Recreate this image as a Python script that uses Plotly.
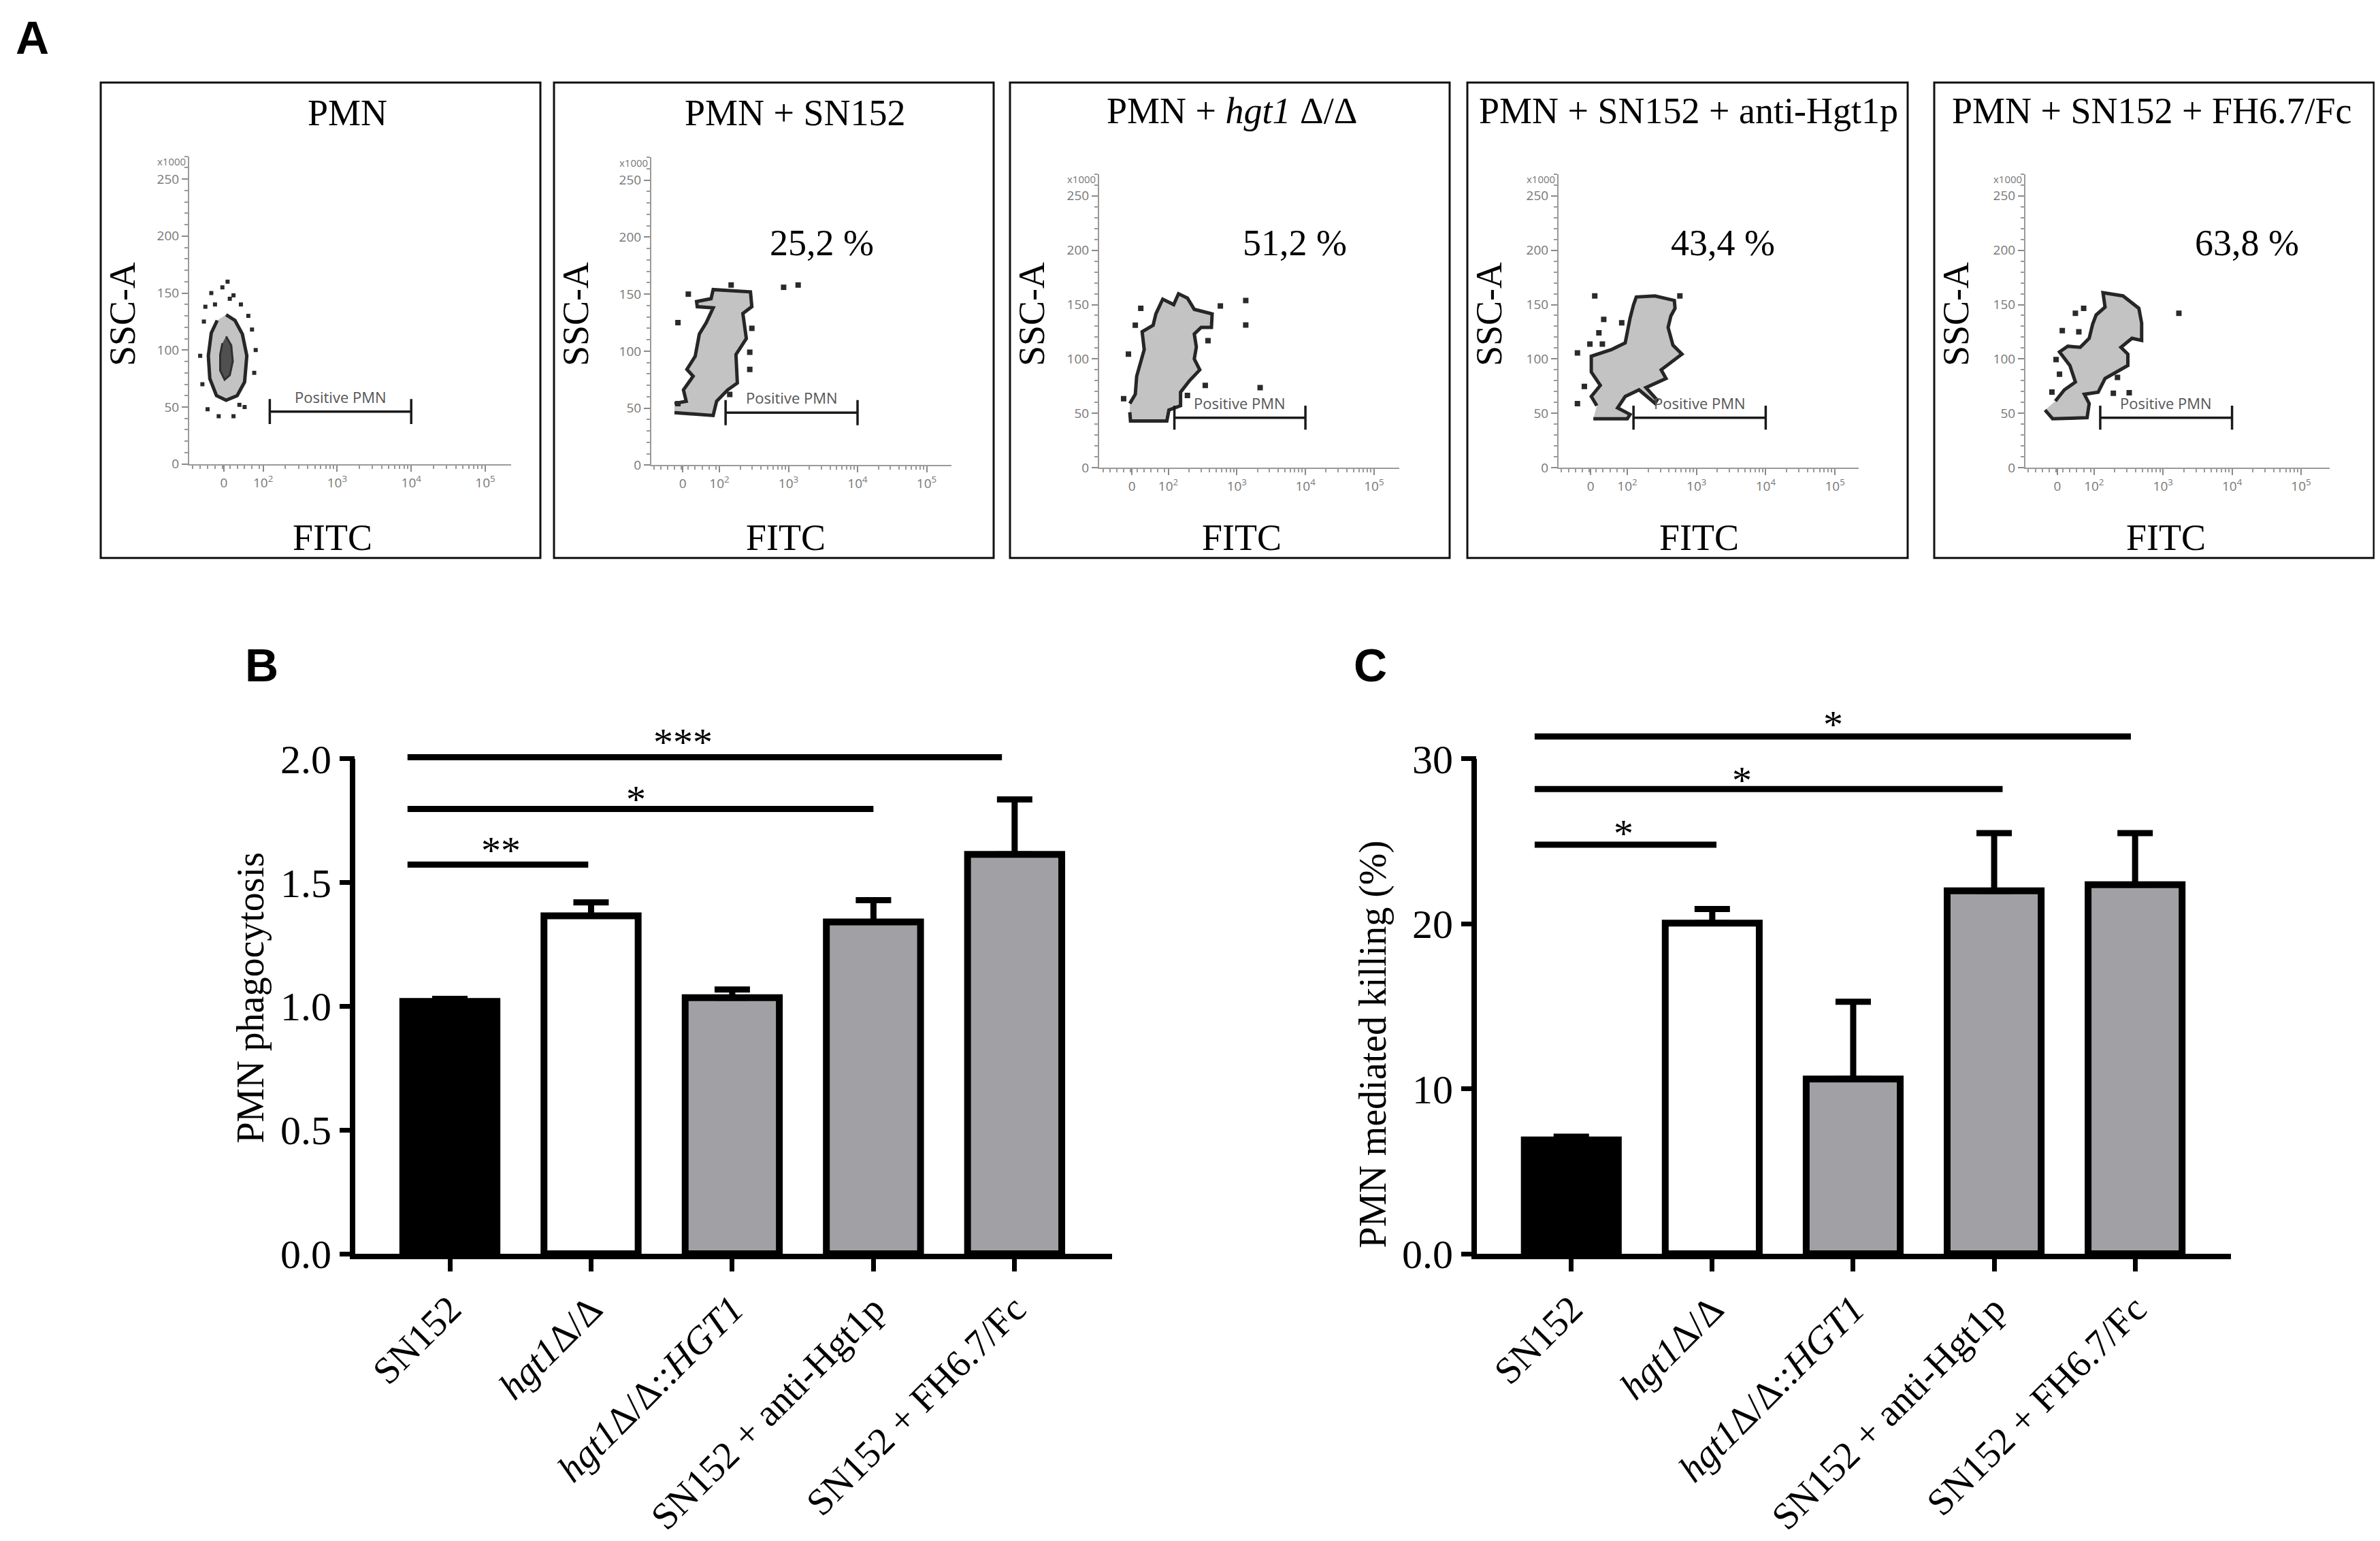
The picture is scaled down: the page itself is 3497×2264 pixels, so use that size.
import math

import plotly.graph_objects as go

W, H = 3497, 2264
SERIF = "Liberation Serif, Times New Roman, serif"
SANS = "Liberation Sans, Arial, sans-serif"


def px(x):
    return x / W


def py(y):
    return 1 - y / H


# ---------------- Panel A data (FITC position, SSC-A x1000) ----------------
facs_titles = ["PMN", "PMN + SN152", "PMN + <i>hgt1</i> Δ/Δ",
               "PMN + SN152 + anti-Hgt1p", "PMN + SN152 + FH6.7/Fc"]
facs_percent = ["", "25,2 %", "51,2 %", "43,4 %", "63,8 %"]

pmn_u = [1.50, 1.62, 1.72, 1.78, 1.75, 1.65, 1.50, 1.37, 1.28, 1.26, 1.30, 1.38]
pmn_ssc = [131, 126, 114, 95, 72, 60, 56, 60, 75, 95, 115, 126]
pmn_core_u = [1.50, 1.57, 1.59, 1.55, 1.48, 1.42, 1.42, 1.45]
pmn_core_ssc = [112, 104, 90, 78, 74, 82, 96, 106]
pmn_dots_u = [1.30, 1.45, 1.60, 1.70, 1.85, 1.90, 1.88, 1.75, 1.60, 1.40,
              1.25, 1.18, 1.15, 1.20, 1.35, 1.55, 1.80, 1.52, 1.68, 1.22]
pmn_dots_ssc = [150, 155, 148, 140, 118, 100, 80, 50, 42, 42,
                48, 70, 95, 125, 140, 145, 130, 160, 52, 138]

sn152_u = [1.35, 1.91, 1.96, 2.12, 2.26, 2.24, 2.39, 2.34, 2.47, 2.45, 1.91, 1.88,
           1.67, 1.68, 1.91, 1.81, 1.71, 1.65, 1.53, 1.62, 1.48, 1.52, 1.35]
sn152_ssc = [46, 43.5, 56, 66, 72, 97, 111, 133, 139, 152, 154, 146,
             143.5, 139, 138, 125, 115, 95.5, 84, 78, 66, 56, 54]
sn152_dots_u = [1.55, 2.17, 2.93, 3.14, 1.40, 2.44, 2.44, 2.47, 1.40, 2.15]
sn152_dots_ssc = [150, 158, 156, 158, 125, 99, 84, 120, 54, 62]

hgt1_u = [1.44, 1.45, 1.98, 2.01, 2.18, 2.18, 2.31, 2.46, 2.38, 2.41, 2.38, 2.48, 2.63,
          2.64, 2.38, 2.28, 2.15, 2.08, 1.92, 1.82, 1.78, 1.62, 1.65, 1.59, 1.54, 1.52, 1.44]
hgt1_ssc = [51, 43, 43, 53, 57, 69.5, 80, 90, 100, 111, 123, 129, 129,
            141.5, 145.6, 156, 160, 150, 155, 141.5, 131, 125, 108.6, 94, 84, 67.5, 59]
hgt1_dots_u = [1.60, 1.52, 1.42, 1.35, 2.76, 3.13, 3.13, 3.34, 2.54, 2.58, 2.28]
hgt1_dots_ssc = [146.6, 131, 104.5, 63.4, 148.7, 153.8, 131.2, 73.7, 75.7, 116.8, 66.5]

anti_u = [1.51, 2.00, 2.04, 1.86, 1.97, 2.17, 2.40, 2.43, 2.27, 2.56, 2.49, 2.79, 2.66, 2.59,
          2.63, 2.69, 2.68, 2.40, 2.13, 2.09, 2.04, 1.97, 1.77, 1.48, 1.48, 1.61, 1.48, 1.56]
anti_ssc = [45, 45, 49, 55, 65.5, 71.6, 59.3, 62.4, 73.7, 82, 90, 104.5, 112.7, 129,
            139.5, 146.6, 153.8, 158, 157, 149.7, 137.4, 114.8, 108.6, 102.5, 88, 75.7, 65.5, 57]
anti_dots_u = [1.59, 1.46, 1.92, 1.64, 1.28, 1.38, 1.28, 1.53, 2.76, 1.66]
anti_dots_ssc = [124, 113.7, 133.3, 113.7, 105.5, 74.7, 59, 158, 158, 136.4]

fh_u = [1.29, 1.40, 1.90, 1.93, 1.86, 2.06, 2.16, 2.49, 2.49, 2.39, 2.55, 2.69, 2.69, 2.65,
        2.42, 2.13, 2.16, 2.03, 1.98, 1.93, 1.80, 1.62, 1.50, 1.65, 1.73, 1.57, 1.44]
fh_ssc = [53, 45, 46, 59, 67.5, 69.5, 82, 94, 104.5, 110.7, 119, 117, 133, 146.6,
          158, 161, 147.7, 140.4, 132, 119, 110.7, 111.7, 106.5, 94, 78.8, 71.6, 61.3]
fh_dots_u = [1.85, 1.73, 1.54, 1.78, 1.45, 1.50, 1.39, 2.28, 2.34, 2.51, 3.23]
fh_dots_ssc = [146.6, 142, 126, 125, 99.4, 86, 69.5, 68.5, 83, 69, 142]

clouds = [(pmn_u, pmn_ssc, pmn_dots_u, pmn_dots_ssc),
          (sn152_u, sn152_ssc, sn152_dots_u, sn152_dots_ssc),
          (hgt1_u, hgt1_ssc, hgt1_dots_u, hgt1_dots_ssc),
          (anti_u, anti_ssc, anti_dots_u, anti_dots_ssc),
          (fh_u, fh_ssc, fh_dots_u, fh_dots_ssc)]

gate_lo, gate_hi, gate_ssc = 2.09, 4.0, 46

# ---------------- Panels B and C data ----------------
categories = ["SN152", "<i>hgt1</i>Δ/Δ", "<i>hgt1</i>Δ/Δ::<i>HGT1</i>",
              "SN152 + anti-Hgt1p", "SN152 + FH6.7/Fc"]
bar_colors = ["#000000", "#ffffff", "#a1a1a5", "#a1a1a5", "#a1a1a5"]

phago_mean = [1.02, 1.366, 1.035, 1.341, 1.614]
phago_sem = [0.01, 0.054, 0.033, 0.088, 0.222]
kill_mean = [6.9, 20.04, 10.6, 22.0, 22.37]
kill_sem = [0.2, 0.86, 4.68, 3.5, 3.13]

# significance bars: start, end, height ; star label, x, y
phago_sig_x0 = [-0.30, -0.30, -0.30]
phago_sig_x1 = [0.98, 3.0, 3.91]
phago_sig_y = [1.573, 1.798, 2.007]
phago_star_text = ["**", "*", "***"]
phago_star_x = [0.36, 1.32, 1.65]
phago_star_y = [1.664, 1.87, 2.10]

kill_sig_x0 = [-0.26, -0.26, -0.26]
kill_sig_x1 = [1.03, 3.06, 3.97]
kill_sig_y = [24.8, 28.17, 31.36]
kill_star_text = ["*", "*", "*"]
kill_star_x = [0.37, 1.21, 1.86]
kill_star_y = [25.98, 29.19, 32.56]

fig = go.Figure()
layout = dict(width=W, height=H, margin=dict(l=0, r=0, t=0, b=0),
              paper_bgcolor="white", plot_bgcolor="white", showlegend=False)
annotations = []
shapes = []


def note(x, y, text, size, xref="paper", yref="paper", family=SERIF, color="black", **kw):
    d = dict(x=x, y=y, xref=xref, yref=yref, text=text, showarrow=False,
             xanchor="center", yanchor="middle",
             font=dict(family=family, size=size, color=color))
    d.update(kw)
    annotations.append(d)


# ---------------- Panel A layout ----------------
boxes = [(140, 786), (806, 1452), (1476, 2122), (2148, 2795), (2834, 3480)]
# axis left px, right px, 10^2 px, px per decade, SSC zero px, px per SSC unit
axis_px = [(270, 743, 378.6, 108.8, 684, 1.7),
           (949, 1390, 1049, 101.5, 685.6, 1.7),
           (1607, 2048, 1708.5, 100.8, 689.5, 1.622),
           (2282, 2723, 2383, 101.7, 689.5, 1.622),
           (2968, 3415, 3068.8, 101.4, 689.5, 1.622)]
title_x = [502, 1160, 1802, 2473, 3154]
title_y = [160, 160, 157, 157, 157]
pct_x = [0, 1199, 1894, 2523, 3293]

minor_x = [1.05 + 0.1 * k for k in range(10)]
minor_x += [n + math.log10(k) for n in (2, 3, 4) for k in range(2, 10)]

for i in range(5):
    n = i + 1
    xa = "x" if n == 1 else f"x{n}"
    ya = "y" if n == 1 else f"y{n}"
    L, R, P2, D, Z, K = axis_px[i]
    layout["xaxis" if n == 1 else f"xaxis{n}"] = dict(
        domain=[px(L), px(R)], anchor=ya,
        range=[2 - (P2 - L) / D, 2 + (R - P2) / D],
        tickvals=[1.47, 2, 3, 4, 5],
        ticktext=["0", "10<sup>2</sup>", "10<sup>3</sup>", "10<sup>4</sup>", "10<sup>5</sup>"],
        ticks="outside", ticklen=9, tickwidth=2, tickcolor="#8a8a8a",
        minor=dict(tickvals=minor_x, ticks="outside", ticklen=5, tickwidth=1.5,
                   tickcolor="#9a9a9a"),
        showline=True, linecolor="#9a9a9a", linewidth=2,
        showgrid=False, zeroline=False,
        tickfont=dict(family="Open Sans", size=19, color="#777777"))
    layout["yaxis" if n == 1 else f"yaxis{n}"] = dict(
        domain=[py(Z), py(Z - 270 * K)], anchor=xa, range=[0, 270],
        tickvals=[0, 50, 100, 150, 200, 250],
        ticks="outside", ticklen=9, tickwidth=2, tickcolor="#8a8a8a",
        minor=dict(dtick=10, ticks="outside", ticklen=5, tickwidth=1.5,
                   tickcolor="#9a9a9a"),
        showline=True, linecolor="#9a9a9a", linewidth=2,
        showgrid=False, zeroline=False,
        tickfont=dict(family="Open Sans", size=19, color="#777777"))

    cu, cs, du, ds = clouds[i]
    fig.add_trace(go.Scatter(x=cu, y=cs, mode="lines", fill="toself",
                             fillcolor="#c3c3c3", line=dict(color="#262626", width=5),
                             xaxis=xa, yaxis=ya, hoverinfo="skip"))
    if n == 1:
        fig.add_trace(go.Scatter(x=pmn_core_u, y=pmn_core_ssc, mode="lines", fill="toself",
                                 fillcolor="#505050", line=dict(color="#303030", width=3),
                                 xaxis=xa, yaxis=ya, hoverinfo="skip"))
    fig.add_trace(go.Scatter(x=du, y=ds, mode="markers",
                             marker=dict(color="#2a2a2a", size=6 if n == 1 else 8,
                                         symbol="square"),
                             xaxis=xa, yaxis=ya, hoverinfo="skip"))
    # gate
    fig.add_trace(go.Scatter(
        x=[gate_lo, gate_hi, None, gate_lo, gate_lo, None, gate_hi, gate_hi],
        y=[gate_ssc, gate_ssc, None, gate_ssc - 11, gate_ssc + 11, None,
           gate_ssc - 11, gate_ssc + 11],
        mode="lines", line=dict(color="#1a1a1a", width=3.5),
        xaxis=xa, yaxis=ya, hoverinfo="skip"))
    note((gate_lo + gate_hi) / 2, gate_ssc + 3, "Positive PMN", 22, xref=xa, yref=ya,
         family="Open Sans", color="#555555", yanchor="bottom")
    note(px(L) - 0.001, py(Z - 270 * K) + 0.002, "x1000", 15,
         family="Open Sans", color="#777777", xanchor="right", yanchor="top")

    bl, br = boxes[i]
    shapes.append(dict(type="rect", xref="paper", yref="paper",
                       x0=px(bl), x1=px(br), y0=py(824), y1=py(115),
                       line=dict(color="#111111", width=3)))
    note(px(title_x[i]), py(title_y[i]), facs_titles[i], 54)
    note(px(bl + 32), py(461), "SSC-A", 54, textangle=-90)
    note(px(bl + 340), py(794), "FITC", 54)
    if facs_percent[i]:
        note(px(pct_x[i]), py(354), facs_percent[i], 54)

# ---------------- Panels B and C ----------------
dom_bottom, dom_top = 1862, 1050
bar_panels = [
    dict(n=6, left=514, right=1626, xr=[-0.67, 4.69], ytop=2.2, tickmax=2.0,
         tickvals=[0, 0.5, 1.0, 1.5, 2.0], ticktext=["0.0", "0.5", "1.0", "1.5", "2.0"],
         mean=phago_mean, sem=phago_sem,
         sig=(phago_sig_x0, phago_sig_x1, phago_sig_y),
         stars=(phago_star_text, phago_star_x, phago_star_y),
         title="PMN phagocytosis", title_x=360, title_y=1480),
    dict(n=7, left=2162, right=3270, xr=[-0.67, 4.68], ytop=33, tickmax=30,
         tickvals=[0, 10, 20, 30], ticktext=["0.0", "10", "20", "30"],
         mean=kill_mean, sem=kill_sem,
         sig=(kill_sig_x0, kill_sig_x1, kill_sig_y),
         stars=(kill_star_text, kill_star_x, kill_star_y),
         title="PMN mediated killing (%)", title_x=2010, title_y=1550),
]

for p in bar_panels:
    xa, ya = f"x{p['n']}", f"y{p['n']}"
    layout[f"xaxis{p['n']}"] = dict(
        domain=[px(p["left"]), px(p["right"])], anchor=ya, range=p["xr"],
        tickvals=list(range(5)), ticktext=categories, tickangle=-45,
        ticks="outside", ticklen=18, tickwidth=7, tickcolor="black",
        showline=True, linecolor="black", linewidth=8,
        showgrid=False, zeroline=False,
        tickfont=dict(family=SERIF, size=56, color="black"))
    layout[f"yaxis{p['n']}"] = dict(
        domain=[py(dom_bottom), py(dom_top)], anchor=xa, range=[0, p["ytop"]],
        tickvals=p["tickvals"], ticktext=p["ticktext"],
        ticks="outside", ticklen=22, tickwidth=7, tickcolor="black",
        showline=False, showgrid=False, zeroline=False,
        tickfont=dict(family=SERIF, size=60, color="black"))

    # y axis line only up to the top tick
    y_lo, y_hi = py(dom_bottom), py(dom_top)
    top_tick = y_lo + (y_hi - y_lo) * p["tickmax"] / p["ytop"]
    shapes.append(dict(type="line", xref="paper", yref="paper",
                       x0=px(p["left"] - 4), x1=px(p["left"] - 4),
                       y0=y_lo - 8 / H, y1=top_tick,
                       line=dict(color="black", width=8)))

    fig.add_trace(go.Bar(
        x=list(range(5)), y=p["mean"], width=0.667,
        marker=dict(color=bar_colors, line=dict(color="black", width=10)),
        error_y=dict(type="data", symmetric=False, array=p["sem"],
                     arrayminus=[0] * 5, thickness=9, width=26, color="black"),
        xaxis=xa, yaxis=ya, hoverinfo="skip"))

    sx0, sx1, sy = p["sig"]
    lx, ly = [], []
    for a, b, c in zip(sx0, sx1, sy):
        lx += [a, b, None]
        ly += [c, c, None]
    fig.add_trace(go.Scatter(x=lx, y=ly, mode="lines",
                             line=dict(color="black", width=9),
                             xaxis=xa, yaxis=ya, hoverinfo="skip"))
    for t, x, y in zip(*p["stars"]):
        note(x, y, t, 58, xref=xa, yref=ya, yshift=-12)

    note(px(p["title_x"]), py(p["title_y"]), p["title"], 56, textangle=-90)

# panel letters
for letter, lx_, ly_ in [("A", 39, 48), ("B", 376, 984), ("C", 2005, 984)]:
    note(px(lx_), py(ly_), f"<b>{letter}</b>", 68, family=SANS)

layout["annotations"] = annotations
layout["shapes"] = shapes
fig.update_layout(**layout)

fig.write_html("out.html")
